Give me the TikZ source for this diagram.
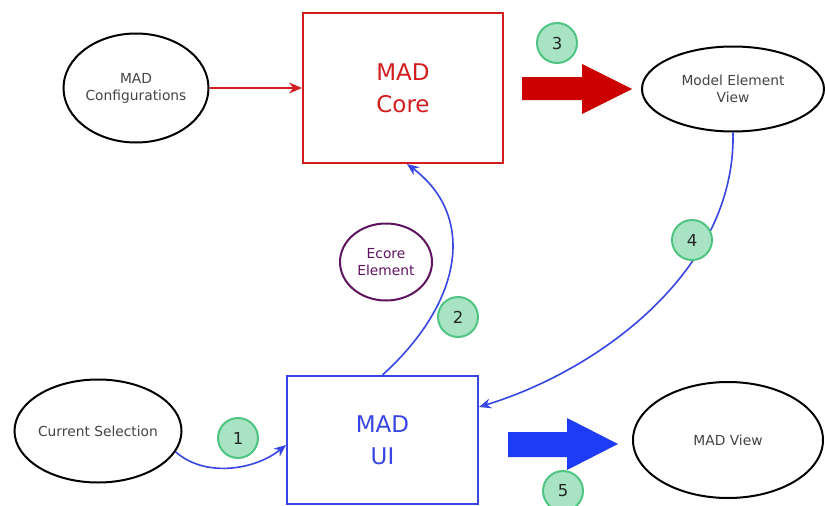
\documentclass[tikz,border=0pt]{standalone}
\usepackage{fontspec}
\setmainfont{DejaVu Sans}
\usetikzlibrary{arrows.meta,shapes.geometric}
\definecolor{madred}{RGB}{210,30,30}
\definecolor{arrred}{RGB}{205,0,0}
\definecolor{madblue}{RGB}{55,70,228}
\definecolor{arrblue}{RGB}{30,60,245}
\definecolor{madpurple}{RGB}{95,20,95}
\definecolor{txtgrey}{RGB}{68,68,68}
\definecolor{numfill}{RGB}{168,228,196}
\definecolor{numdraw}{RGB}{80,196,130}
\tikzset{
  smalltext/.style={font=\fontsize{13.8}{17}\selectfont, align=center},
  bigtext/.style={font=\fontsize{23}{32}\selectfont, align=center},
  oval/.style={ellipse, draw=black, line width=2pt, inner sep=0pt, smalltext, text=txtgrey},
  redbox/.style={rectangle, draw=madred, line width=2pt, bigtext, text=madred, inner sep=0pt},
  bluebox/.style={rectangle, draw=madblue, line width=2pt, bigtext, text=madblue, inner sep=0pt},
  numcirc/.style={circle, fill=numfill, draw=numdraw, line width=2pt, minimum size=40pt, inner sep=0pt,
    font=\fontsize{16.5}{16.5}\selectfont, text=black!85},
  redconn/.style={draw=madred, line width=1.6pt, -{Stealth[length=13pt,width=11pt]}},
  blueconn/.style={draw=madblue, line width=1.6pt, -{Stealth[length=12pt,width=10pt]}},
}
\begin{document}
\begin{tikzpicture}[x=1pt,y=-1pt]
\useasboundingbox (0,0) rectangle (825,506);
\fill[white] (0,0) rectangle (825,506);

% nodes
\node[oval, inner xsep=-12pt, minimum width=145pt, minimum height=109pt] (mc) at (136,88) {MAD\\Configurations};
\node[redbox, minimum width=200pt, minimum height=150pt] (core) at (403,88) {MAD\\Core};
\node[oval, inner xsep=-12pt, minimum width=182pt, minimum height=85pt] (mev) at (733,89) {Model Element\\View};
\node[oval, draw=madpurple, text=madpurple, inner xsep=-8pt, minimum width=92pt, minimum height=77pt] (ecore) at (386,262) {Ecore\\Element};
\node[bluebox, minimum width=191pt, minimum height=128pt] (ui) at (382.5,440) {MAD\\UI};
\node[oval, inner xsep=-12pt, minimum width=167pt, minimum height=103pt] (cs) at (98,431) {Current Selection};
\node[oval, inner xsep=-12pt, minimum width=190pt, minimum height=116pt] (mv) at (728,440) {MAD View};

% connectors
\draw[redconn] (mc.east) -- (core.west);
\draw[blueconn] (cs.-15) .. controls (205,478) and (255,470) .. ([yshift=-5pt]ui.west);
\draw[blueconn] (ui.north) .. controls (465,300) and (475,215) .. ([xshift=4pt]core.south);
\draw[blueconn] (mev.south) .. controls (736,270) and (600,370) .. ([yshift=33pt]ui.east);

% big arrows
\fill[arrred] (522,77) -- (582,77) -- (582,64) -- (632,89) -- (582,114) -- (582,100) -- (522,100) -- cycle;
\fill[arrblue] (508,432) -- (567,432) -- (567,418) -- (618,444) -- (567,470) -- (567,457) -- (508,457) -- cycle;

% numbered circles
\node[numcirc] (n1) at (238,438) {1};
\node[numcirc] (n2) at (458,317) {2};
\node[numcirc] (n3) at (557,43) {3};
\node[numcirc] (n4) at (692,240) {4};
\node[numcirc] (n5) at (563,491) {5};
\end{tikzpicture}
\end{document}
